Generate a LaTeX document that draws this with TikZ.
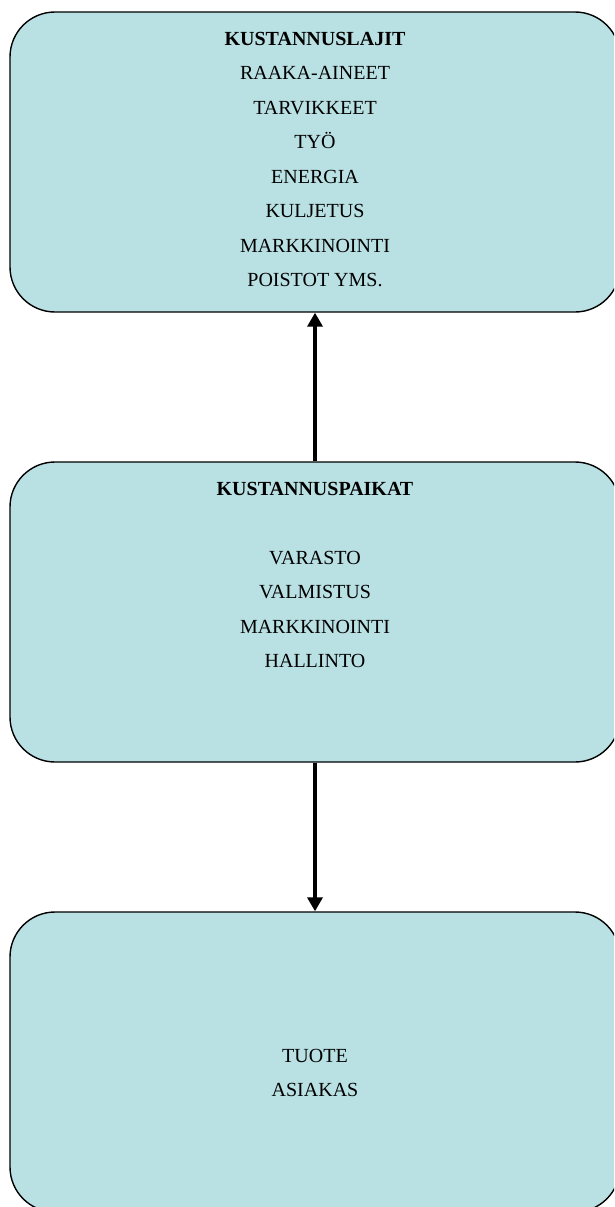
\documentclass[tikz,border=0pt]{standalone}
\usepackage{fontspec}
\setmainfont{Liberation Serif}
\usepackage{tikz}
\usetikzlibrary{arrows.meta,positioning}
\definecolor{boxfill}{RGB}{185,224,227}

\begin{document}
\begin{tikzpicture}[x=1pt,y=-1pt,
  box/.style={draw=black,line width=1.4pt,fill=boxfill,rounded corners=45pt,
    minimum width=610pt,minimum height=300pt,inner sep=0pt},
  lines/.style={align=center,font=\fontsize{20}{34.5}\selectfont,inner sep=0pt},
  flow/.style={line width=4pt,-{Triangle[length=14pt,width=15pt]}}]
% frame
\useasboundingbox (0,0) rectangle (614,1207);
\clip (0,0) rectangle (614,1207);

% boxes
\node[box] (lajit) at (315,162) {};
\node[box] (paikat) at (315,612) {};
\node[box] (kohde) at (315,1062) {};

% texts
\node[lines,anchor=north] (lajit text) at ([yshift=-20.5pt]lajit.north)
  {\textbf{KUSTANNUSLAJIT}\\RAAKA-AINEET\\TARVIKKEET\\TYÖ\\ENERGIA\\KULJETUS\\MARKKINOINTI\\POISTOT YMS.};
\node[lines,anchor=north] (paikat text) at ([yshift=-20.5pt]paikat.north)
  {\textbf{KUSTANNUSPAIKAT}\\[34.5pt]VARASTO\\VALMISTUS\\MARKKINOINTI\\HALLINTO};
\node[lines] (kohde text) at ([yshift=-11pt]kohde.center) {TUOTE\\ASIAKAS};

% arrows
\draw[flow] (paikat.north) -- (lajit.south);
\draw[flow] (paikat.south) -- (kohde.north);
\end{tikzpicture}
\end{document}
